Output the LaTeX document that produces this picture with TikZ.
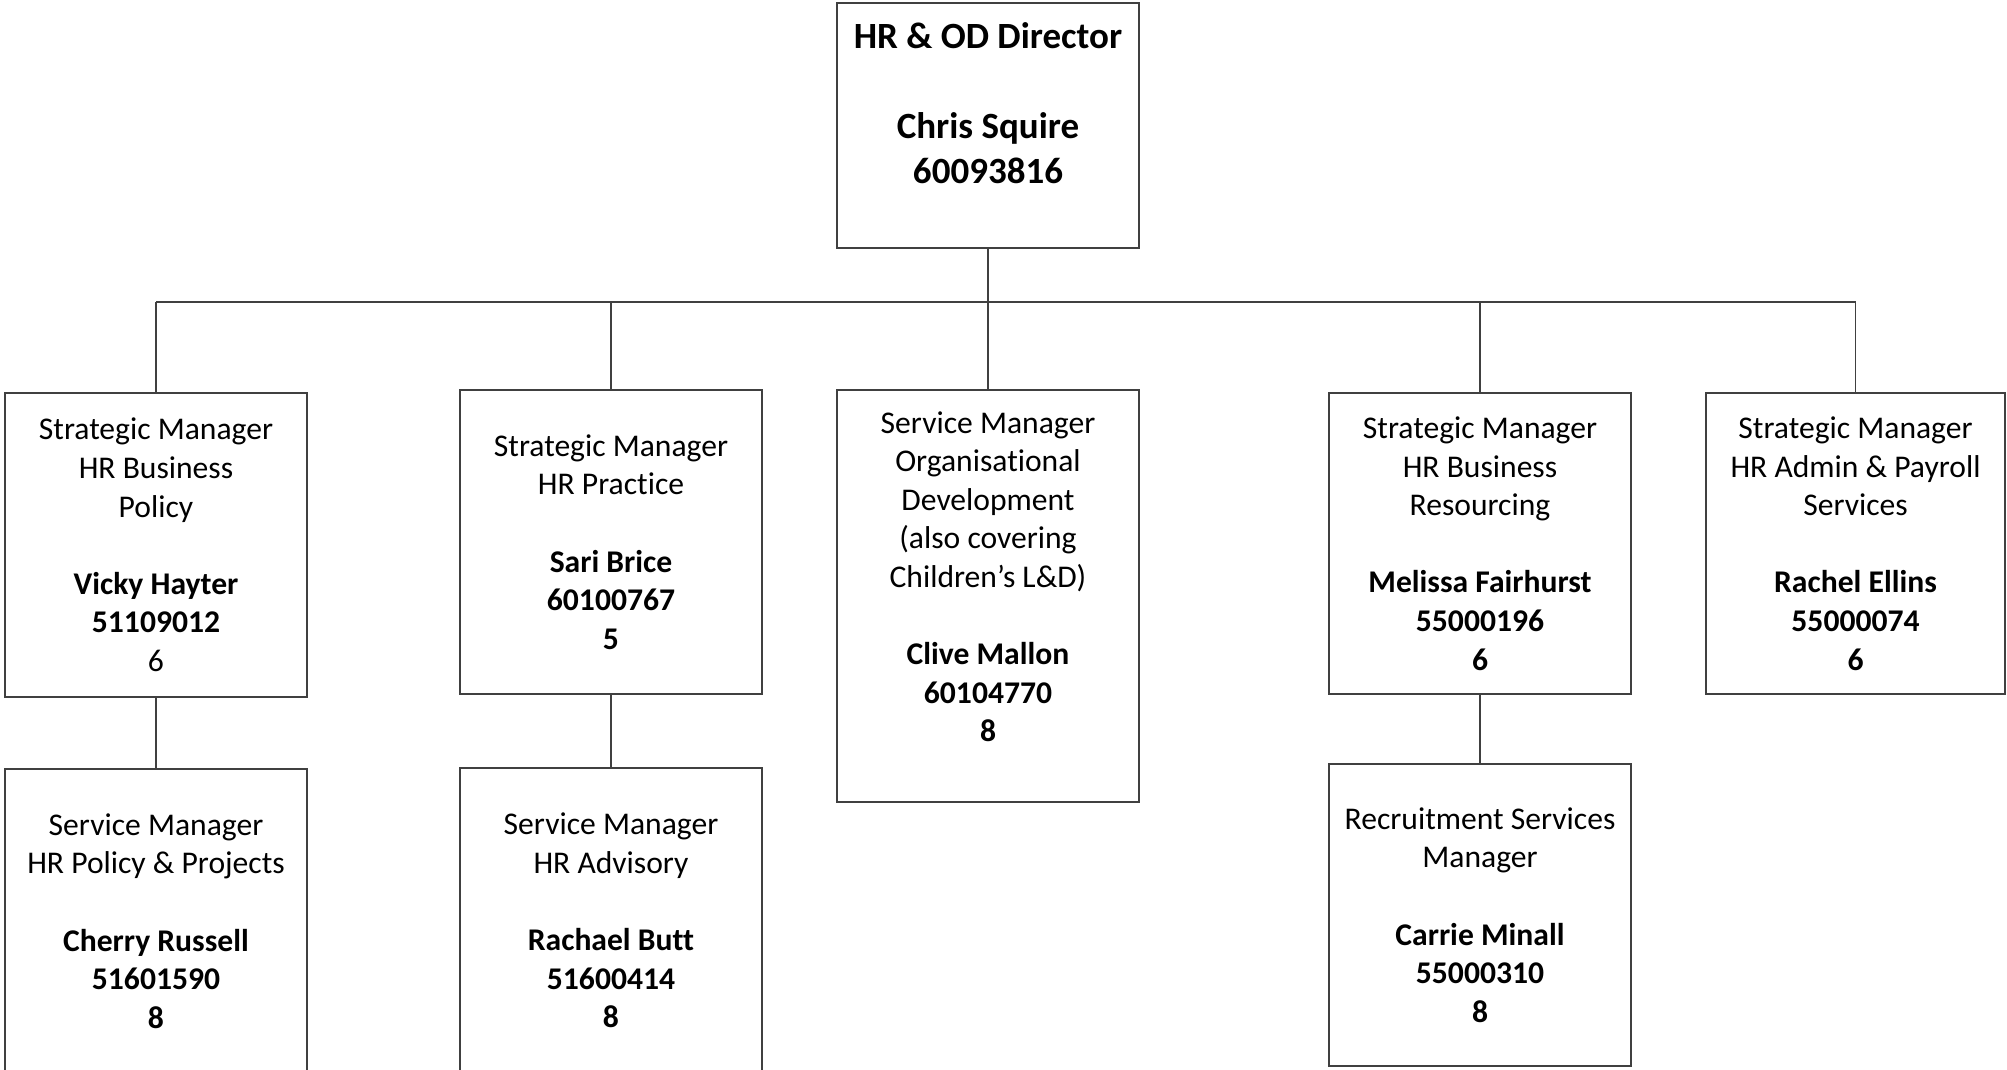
\documentclass[tikz,border=0pt]{standalone}
\usepackage{fontspec}
\setmainfont[Ligatures={NoCommon,NoRare}]{Carlito}
\begin{document}
\begin{tikzpicture}[x=1pt,y=-1pt,
  box/.style={draw=black!75, line width=1.1pt, rectangle, minimum width=302pt, inner sep=0pt, align=center, text=black, font=\fontsize{31.6}{38.6}\selectfont},
  topbox/.style={box, font=\fontsize{37}{45}\selectfont\bfseries},
  link/.style={draw=black!75, line width=1.1pt}]
\useasboundingbox[fill=white] (0,0) rectangle (2007,1069);
\begin{scope}
\clip (0,0) rectangle (2007,1069);
\node[topbox, minimum height=245pt] (dir) at (988,125.5) {HR \& OD Director\\[45pt]Chris Squire\\60093816\\ \mbox{}};
\node[box, minimum height=304pt] (vicky) at (156,545) {Strategic Manager\\HR Business\\Policy\\[38.6pt]\textbf{Vicky Hayter}\\\textbf{51109012}\\6};
\node[box, minimum height=304pt] (cherry) at (156,921) {Service Manager\\HR Policy \& Projects\\[38.6pt]\textbf{Cherry Russell}\\\textbf{51601590}\\\textbf{8}};
\node[box, minimum height=304pt] (sari) at (611,542) {Strategic Manager\\HR Practice\\[38.6pt]\textbf{Sari Brice}\\\textbf{60100767}\\\textbf{5}};
\node[box, minimum height=305pt] (rachael) at (611,920.5) {Service Manager\\HR Advisory\\[38.6pt]\textbf{Rachael Butt}\\\textbf{51600414}\\\textbf{8}};
\node[box, minimum height=412pt] (clive) at (988,596) {Service Manager\\Organisational\\Development\\(also covering\\Children’s L\&D)\\[38.6pt]\textbf{Clive Mallon}\\\textbf{60104770}\\\textbf{8}\\ \mbox{}};
\node[box, minimum height=301pt] (melissa) at (1480,543.5) {Strategic Manager\\HR Business\\Resourcing\\[38.6pt]\textbf{Melissa Fairhurst}\\\textbf{55000196}\\\textbf{6}};
\node[box, minimum height=302pt] (carrie) at (1480,915) {Recruitment Services\\Manager\\[38.6pt]\textbf{Carrie Minall}\\\textbf{55000310}\\\textbf{8}};
\node[box, minimum width=299pt, minimum height=301pt] (rachel) at (1855.5,543.5) {Strategic Manager\\HR Admin \& Payroll\\Services\\[38.6pt]\textbf{Rachel Ellins}\\\textbf{55000074}\\\textbf{6}};
\coordinate (bus) at (988,302);
\draw[link] (dir.south) -- (dir.south |- bus);
\draw[link] (vicky.north |- bus) -- (rachel.north |- bus);
\foreach \n in {vicky,sari,clive,melissa,rachel}
  \draw[link] (\n.north |- bus) -- (\n.north);
\draw[link] (vicky.south) -- (cherry.north);
\draw[link] (sari.south) -- (rachael.north);
\draw[link] (melissa.south) -- (carrie.north);
\end{scope}
\end{tikzpicture}
\end{document}
